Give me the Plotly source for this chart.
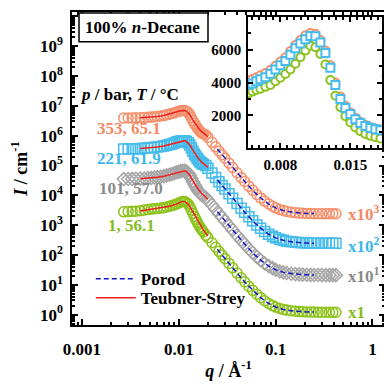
import plotly.graph_objects as go

# scattering vector q (1/Å)
q = [0.0027, 0.0030, 0.0033, 0.0036, 0.0040, 0.0044, 0.0048, 0.0052, 0.0056, 0.0060,
     0.0065, 0.0070, 0.0075, 0.0080, 0.0085, 0.0090, 0.0095, 0.0100, 0.0105, 0.0110,
     0.0115, 0.0120, 0.0125, 0.0130, 0.0135, 0.0140, 0.0145, 0.0150, 0.0155, 0.0160,
     0.0165, 0.0170, 0.0175, 0.0180, 0.019, 0.020, 0.022, 0.024, 0.026, 0.028,
     0.030, 0.033, 0.036, 0.040, 0.044, 0.048, 0.053, 0.058, 0.064, 0.070,
     0.077, 0.085, 0.093, 0.10, 0.11, 0.12, 0.13, 0.145, 0.16, 0.175,
     0.19, 0.21, 0.23, 0.25, 0.275, 0.30, 0.33, 0.36, 0.39, 0.42]

# intensities (cm^-1), unscaled
I_1bar = [2800, 2850, 2900, 2950, 3050, 3200, 3350, 3450, 3550, 3630,
          3740, 3850, 4080, 4300, 4520, 4800, 5150, 5550, 5950, 6250,
          6150, 5750, 5100, 4150, 3200, 2500, 1950, 1560, 1260, 1030,
          870, 750, 660, 590, 461, 376, 257, 182, 132, 99,
          75, 52, 37, 24.6, 17.2, 12.5, 8.8, 6.5, 4.8, 3.7,
          2.9, 2.35, 2.0, 1.8, 1.61, 1.49, 1.41, 1.34, 1.29, 1.26,
          1.25, 1.23, 1.22, 1.21, 1.2, 1.2, 1.2, 1.2, 1.2, 1.2]
I_101bar = [3500, 3520, 3550, 3580, 3620, 3680, 3760, 3840, 3950, 4070,
            4200, 4400, 4650, 4900, 5170, 5530, 5920, 6200, 6470, 6650,
            6620, 6250, 5600, 4700, 3700, 2850, 2300, 1920, 1600, 1370,
            1200, 1080, 1000, 930, 846, 689, 472, 333, 243, 181,
            138, 95, 68, 45, 31.4, 22.8, 16, 11.8, 8.6, 6.7,
            5.2, 4.2, 3.6, 3.2, 2.85, 2.63, 2.48, 2.35, 2.27, 2.22,
            2.19, 2.16, 2.14, 2.13, 2.12, 2.11, 2.1, 2.1, 2.1, 2.1]
I_221bar = [3600, 3620, 3650, 3680, 3720, 3780, 3870, 3950, 4080, 4200,
            4330, 4540, 4800, 5050, 5320, 5700, 6100, 6380, 6650, 6840,
            6820, 6450, 5800, 4900, 3850, 3000, 2450, 2080, 1760, 1530,
            1350, 1230, 1150, 1090, 1000, 815, 558, 394, 287, 214,
            163, 112, 80, 53, 37, 27, 19, 14, 10.2, 7.9,
            6.1, 4.95, 4.2, 3.75, 3.35, 3.1, 2.9, 2.75, 2.65, 2.6,
            2.55, 2.52, 2.5, 2.48, 2.47, 2.46, 2.46, 2.45, 2.45, 2.45]
I_353bar = [3900, 3920, 3950, 3980, 4020, 4080, 4150, 4220, 4330, 4450,
            4580, 4780, 5020, 5280, 5550, 5920, 6300, 6600, 6880, 7020,
            6980, 6600, 5950, 5050, 4000, 3150, 2580, 2180, 1850, 1610,
            1420, 1290, 1200, 1140, 1076, 877, 600, 424, 308, 230,
            175, 120, 86, 57, 40, 29, 20, 14.8, 10.7, 8.2,
            6.4, 5.1, 4.3, 3.8, 3.35, 3.1, 2.9, 2.7, 2.6, 2.55,
            2.5, 2.47, 2.45, 2.43, 2.42, 2.41, 2.4, 2.4, 2.4, 2.4]

# Teubner-Strey fits
q_ts = [0.004, 0.005, 0.006, 0.007, 0.008, 0.009, 0.0095, 0.010, 0.0105, 0.011, 0.0115,
        0.012, 0.0125, 0.013, 0.014, 0.015, 0.016, 0.017, 0.018, 0.019, 0.020]
ts_1bar = [3000, 3350, 3630, 3850, 4300, 4800, 5150, 5550, 5950, 6250, 6150,
           5750, 5100, 4150, 2700, 1750, 1200, 880, 680, 540, 440]
ts_101bar = [3620, 3800, 4070, 4400, 4900, 5530, 5920, 6200, 6470, 6650, 6620,
             6250, 5600, 4700, 3050, 2100, 1550, 1200, 1000, 870, 740]
ts_221bar = [3720, 3900, 4200, 4540, 5050, 5700, 6100, 6380, 6650, 6840, 6820,
             6450, 5800, 4900, 3200, 2250, 1700, 1350, 1150, 1000, 870]
ts_353bar = [4020, 4180, 4450, 4780, 5280, 5920, 6300, 6600, 6880, 7020, 6980,
             6600, 5950, 5050, 3350, 2350, 1780, 1420, 1200, 1060, 930]

# Porod fits
q_porod = [0.025, 0.03, 0.035, 0.04, 0.05, 0.06, 0.07, 0.085, 0.1, 0.12, 0.15, 0.2, 0.25]
porod_1bar = [155, 75, 41.2, 24.6, 10.8, 5.8, 3.7, 2.35, 1.8, 1.49, 1.32, 1.24, 1.22]
porod_101bar = [284, 138, 75.4, 45, 19.7, 10.6, 6.7, 4.2, 3.2, 2.63, 2.32, 2.17, 2.13]
porod_221bar = [335, 163, 89, 53, 23.2, 12.5, 7.9, 4.95, 3.75, 3.1, 2.71, 2.53, 2.48]
porod_353bar = [360, 175, 95.7, 57, 24.8, 13.2, 8.2, 5.1, 3.8, 3.1, 2.68, 2.49, 2.44]

series_labels = ['1, 56.1', '101, 57.0', '221, 61.9', '353, 65.1']
factors = [1, 10, 100, 1000]
factor_labels = ['x1', 'x10<sup>1</sup>', 'x10<sup>2</sup>', 'x10<sup>3</sup>']

data = [I_1bar, I_101bar, I_221bar, I_353bar]
ts_fits = [ts_1bar, ts_101bar, ts_221bar, ts_353bar]
porod_fits = [porod_1bar, porod_101bar, porod_221bar, porod_353bar]

colors = ['#8CC21A', '#A6A6A6', '#45BCEB', '#F5906C']
text_colors = ['#86BC1E', '#8A8A8A', '#3DB6EA', '#F38A66']
symbols = ['circle', 'diamond', 'square', 'circle']

FONT = 'Liberation Serif'

# positions of the labels (log10 q, log10 I)
label_pos = [(-2.493, 2.983), (-2.493, 4.217), (-2.514, 5.25), (-2.514, 6.25)]
factor_y = [0.083, 1.317, 2.35, 3.417]

fig = go.Figure()

for k in range(4):
    fig.add_trace(go.Scatter(
        x=q, y=[v * factors[k] for v in data[k]],
        mode='markers', showlegend=False,
        marker=dict(symbol=symbols[k] + '-open', size=10, color=colors[k], line=dict(width=1.5))
    ))

for k in range(4):
    fig.add_trace(go.Scatter(
        x=q_ts, y=[v * factors[k] for v in ts_fits[k]],
        mode='lines', name='Teubner-Strey', legend='legend2', showlegend=(k == 0),
        line=dict(color='#F01E1E', width=1.5)
    ))
    fig.add_trace(go.Scatter(
        x=q_porod, y=[v * factors[k] for v in porod_fits[k]],
        mode='lines', name='Porod', legend='legend', showlegend=(k == 0),
        line=dict(color='#1414C8', width=1.5, dash='5px,3px')
    ))

# inset: unscaled data around the correlation peak
sel = [i for i, v in enumerate(q) if 0.0046 < v < 0.0182]
for k in [3, 0, 2]:
    fig.add_trace(go.Scatter(
        x=[q[i] for i in sel], y=[data[k][i] for i in sel],
        xaxis='x2', yaxis='y2', mode='markers', showlegend=False,
        marker=dict(symbol=symbols[k], size=8, color='white', line=dict(width=2, color=colors[k]))
    ))

main_xt = [0.001, 0.01, 0.1, 1]
main_yt = [10 ** n for n in range(0, 11)]
x_minor = [m * 10 ** n for n in range(-4, 1) for m in range(2, 10)]
y_minor = [m * 10 ** n for n in range(-1, 11) for m in range(2, 10)]

axis_common = dict(showline=True, linecolor='black', linewidth=1.5, mirror='allticks',
                   ticks='inside', tickcolor='black', tickwidth=1.5, showgrid=False, zeroline=False)

legend_common = dict(xanchor='left', yanchor='middle', bgcolor='rgba(0,0,0,0)',
                     font=dict(size=17), itemwidth=40)

# page has an 8px body margin, so the figure is 8px smaller and margins shifted
fig.update_layout(
    width=384, height=376,
    margin=dict(l=64, r=7, t=2, b=59),
    paper_bgcolor='white', plot_bgcolor='white',
    font=dict(family=FONT, size=17, color='black', weight='bold'),
    xaxis=dict(
        type='log', range=[-3.103, 0.13], domain=[0, 1],
        tickmode='array', tickvals=main_xt, ticktext=['0.001', '0.01', '0.1', '1'],
        ticklen=6, ticklabelstandoff=8,
        minor=dict(tickmode='array', tickvals=x_minor, ticks='inside', ticklen=3, tickcolor='black'),
        title=dict(text='<i>q</i> / Å<sup>-1</sup>', standoff=6, font=dict(size=18)),
        **axis_common
    ),
    yaxis=dict(
        type='log', range=[-0.35, 10.15], domain=[0, 1],
        tickmode='array', tickvals=main_yt, ticktext=['10<sup>%d</sup>' % n for n in range(0, 11)],
        ticklen=6, ticklabelstandoff=4,
        minor=dict(tickmode='array', tickvals=y_minor, ticks='inside', ticklen=3, tickcolor='black'),
        title=dict(text='<i>I</i> / cm<sup>-1</sup>', standoff=8, font=dict(size=18)),
        **axis_common
    ),
    xaxis2=dict(
        anchor='y2', domain=[0.562, 0.99], range=[0.00475, 0.01815],
        tickmode='array', tickvals=[0.008, 0.015], ticklen=5, ticklabelstandoff=2,
        tickfont=dict(size=15),
        minor=dict(tickmode='array', tickvals=[0.0045 + 0.0007 * i for i in range(21)],
                   ticks='inside', ticklen=3, tickcolor='black'),
        **axis_common
    ),
    yaxis2=dict(
        anchor='x2', domain=[0.565, 0.984], range=[0, 8000],
        tickmode='array', tickvals=[2000, 4000, 6000], ticklen=5, ticklabelstandoff=2,
        tickfont=dict(size=15),
        minor=dict(tickmode='array', tickvals=[1000, 3000, 5000, 7000],
                   ticks='inside', ticklen=3, tickcolor='black'),
        **axis_common
    ),
    legend=dict(x=0.06, y=0.146, **legend_common),
    legend2=dict(x=0.06, y=0.086, **legend_common),
    shapes=[dict(type='rect', xref='paper', yref='paper', x0=0.0224, x1=0.4345,
                 y0=0.9048, y1=0.9968, line=dict(color='black', width=1.5), fillcolor='white')]
)

annotations = [
    dict(text='100% <i>n</i>-Decane', xref='paper', yref='paper', x=0.2268, y=0.949,
         xanchor='center', yanchor='middle', showarrow=False, font=dict(size=17)),
    dict(text='<i>p</i> / bar, <i>T</i> / °C', xref='x', yref='y', x=-2.504, y=7.38,
         xanchor='center', showarrow=False, font=dict(size=17)),
]
for k in range(4):
    annotations.append(dict(text=series_labels[k], xref='x', yref='y',
                            x=label_pos[k][0], y=label_pos[k][1], xanchor='center', showarrow=False,
                            font=dict(size=17, color=text_colors[k])))
    annotations.append(dict(text=factor_labels[k], xref='x', yref='y', x=-0.272, y=factor_y[k],
                            xanchor='left', showarrow=False,
                            font=dict(size=17, color=text_colors[k])))
fig.update_layout(annotations=annotations)

fig.write_html("out.html")
